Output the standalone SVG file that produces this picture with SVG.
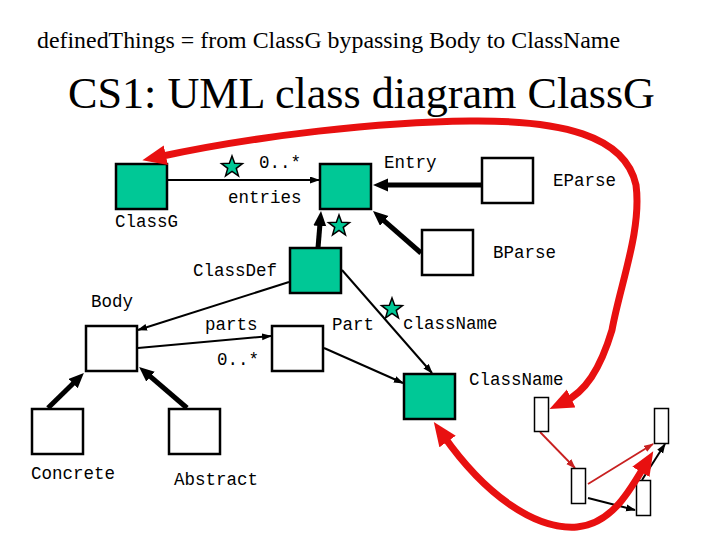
<svg xmlns="http://www.w3.org/2000/svg" width="720" height="540" viewBox="0 0 720 540">
<style>
.title{font-family:"Liberation Serif","Times New Roman",serif;fill:#000}
.lbl{font-family:"Liberation Mono","Courier New",monospace;font-size:17.5px;fill:#000}
.cls{fill:#00c896;stroke:#000;stroke-width:2.5}
.plain{fill:#fff;stroke:#000;stroke-width:2.5}
.small{fill:#fff;stroke:#000;stroke-width:1.5}
.thin{stroke:#000;stroke-width:2;fill:none;marker-end:url(#arrThin)}
.thick{stroke:#000;stroke-width:5;fill:none;marker-end:url(#arrThick)}
.tinyb{stroke:#000;stroke-width:2;fill:none;marker-end:url(#arrThin)}
.tinyr{stroke:#c82020;stroke-width:1.8;fill:none;marker-end:url(#arrThinRed)}
.red{stroke:#e81010;stroke-width:7;fill:none;stroke-linecap:round;marker-start:url(#arrRed);marker-end:url(#arrRed)}
.star{fill:#00c896;stroke:#000;stroke-width:1.5;stroke-linejoin:miter}
</style>
<defs>
<marker id="arrThin" markerUnits="userSpaceOnUse" markerWidth="11" markerHeight="8" refX="9" refY="3.5" orient="auto">
<path d="M0,0 L10,3.5 L0,7 Z" fill="#000"/>
</marker>
<marker id="arrThinRed" markerUnits="userSpaceOnUse" markerWidth="11" markerHeight="8" refX="9" refY="3.5" orient="auto">
<path d="M0,0 L10,3.5 L0,7 Z" fill="#c82020"/>
</marker>
<marker id="arrThick" markerUnits="userSpaceOnUse" markerWidth="16" markerHeight="14" refX="5" refY="6.5" orient="auto">
<path d="M0,0 L15,6.5 L0,13 Z" fill="#000"/>
</marker>
<marker id="arrRed" markerUnits="userSpaceOnUse" markerWidth="26" markerHeight="22" refX="8" refY="10" orient="auto-start-reverse">
<path d="M0,0 L24,10 L0,20 Z" fill="#e81010"/>
</marker>
<path id="starShape" d="M0,-11 L2.65,-3.64 L10.46,-3.40 L4.28,1.39 L6.47,8.90 L0,4.5 L-6.47,8.90 L-4.28,1.39 L-10.46,-3.40 L-2.65,-3.64 Z"/>
</defs>
<rect width="720" height="540" fill="#fff"/>

<text class="title" x="37" y="47.5" font-size="24" textLength="583" lengthAdjust="spacingAndGlyphs">definedThings = from ClassG bypassing Body to ClassName</text>
<text class="title" x="68" y="108" font-size="44" textLength="587" lengthAdjust="spacingAndGlyphs">CS1: UML class diagram ClassG</text>

<g id="connectors">
<line class="thin" x1="167" y1="180" x2="319" y2="180"/>
<line class="thick" x1="481" y1="185" x2="383" y2="185"/>
<line class="thick" x1="421" y1="253" x2="380.5" y2="217.6"/>
<line class="thick" x1="318" y1="248" x2="320.2" y2="221"/>
<line class="thin" x1="289" y1="282" x2="138" y2="330"/>
<line class="thin" x1="138" y1="348" x2="271" y2="336"/>
<line class="thin" x1="342" y1="270" x2="432" y2="373"/>
<line class="thin" x1="324" y1="348" x2="403" y2="383"/>
<line class="thick" x1="48" y1="408" x2="76.7" y2="380"/>
<line class="thick" x1="187" y1="408" x2="146.7" y2="373.4"/>
<line class="tinyr" x1="540" y1="432" x2="575" y2="468"/>
<line class="tinyr" x1="588" y1="484" x2="653" y2="444"/>
<line class="tinyb" x1="588" y1="498" x2="635" y2="510"/>
<line class="tinyb" x1="642" y1="480" x2="665" y2="444"/>
</g>

<g id="ClassG"><rect class="cls" x="116" y="164" width="51" height="45"/><text class="lbl" x="115" y="227">ClassG</text></g>
<g id="Entry"><rect class="cls" x="320" y="164" width="51" height="45"/><text class="lbl" x="384" y="168">Entry</text></g>
<g id="EParse"><rect class="plain" x="482" y="158" width="51" height="45"/><text class="lbl" x="553" y="186">EParse</text></g>
<g id="BParse"><rect class="plain" x="422" y="230" width="51" height="45"/><text class="lbl" x="493" y="258">BParse</text></g>
<g id="ClassDef"><rect class="cls" x="290" y="248" width="51" height="45"/><text class="lbl" x="193" y="276">ClassDef</text></g>
<g id="Body"><rect class="plain" x="86" y="326" width="51" height="45"/><text class="lbl" x="91" y="307">Body</text></g>
<g id="Part"><rect class="plain" x="272" y="326" width="51" height="45"/><text class="lbl" x="332" y="330">Part</text></g>
<g id="ClassName"><rect class="cls" x="404" y="374" width="51" height="45"/><text class="lbl" x="469" y="385">ClassName</text></g>
<g id="Concrete"><rect class="plain" x="32" y="409" width="51" height="45"/><text class="lbl" x="31" y="479">Concrete</text></g>
<g id="Abstract"><rect class="plain" x="169" y="409" width="51" height="45"/><text class="lbl" x="174" y="485">Abstract</text></g>
<g id="r1"><rect class="small" x="534.5" y="397.5" width="14" height="34"/></g>
<g id="r2"><rect class="small" x="654.5" y="408.5" width="14" height="35"/></g>
<g id="r3"><rect class="small" x="571.5" y="468.5" width="14" height="35"/></g>
<g id="r4"><rect class="small" x="636.5" y="480.5" width="14" height="35"/></g>

<g id="labels">
<text class="lbl" x="259" y="168">0..*</text>
<text class="lbl" x="228" y="203">entries</text>
<text class="lbl" x="205" y="330">parts</text>
<text class="lbl" x="217" y="365">0..*</text>
<text class="lbl" x="403" y="329">className</text>
</g>

<g id="stars">
<use href="#starShape" class="star" x="232" y="167"/>
<use href="#starShape" class="star" x="339" y="226"/>
<use href="#starShape" class="star" x="392" y="309"/>
</g>

<g id="paths">
<path class="red" d="M158,157 C260,135 380,122 470,121 C560,120 625,135 636,185 C642,230 620,285 612,330 C600,370 585,392 564,402"/>
<path class="red" d="M443,435 C485,495 535,530 577,527 C612,524 630,490 645,465"/>
</g>
</svg>
